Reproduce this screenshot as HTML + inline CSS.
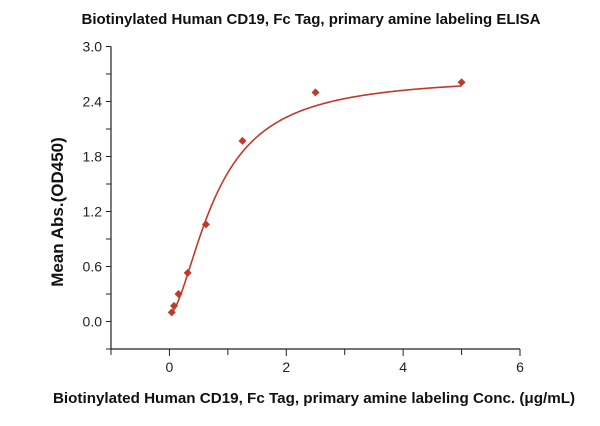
<!DOCTYPE html>
<html><head><meta charset="utf-8"><style>
body{margin:0;background:#fff;font-family:"Liberation Sans",sans-serif}
svg text{font-family:"Liberation Sans",sans-serif}
</style></head><body>
<svg id="chart" width="600" height="421" viewBox="0 0 600 421" xmlns="http://www.w3.org/2000/svg">
<text x="311" y="24" text-anchor="middle" font-size="15" font-weight="bold" fill="#111">Biotinylated Human CD19, Fc Tag, primary amine labeling ELISA</text>
<text x="314" y="403" text-anchor="middle" font-size="15.2" font-weight="bold" fill="#111">Biotinylated Human CD19, Fc Tag, primary amine labeling Conc. (μg/mL)</text>
<text transform="translate(63,212) rotate(-90)" text-anchor="middle" font-size="17" font-weight="bold" fill="#111">Mean Abs.(OD450)</text>
<g id="axes"></g>
<path id="curve" fill="none" stroke="#c0392b" stroke-width="1.6"/>
<g id="points"></g>
</svg>
<script>
const concs=[0.039,0.078,0.156,0.3125,0.625,1.25,2.5,5];
const absVals=[0.10,0.17,0.30,0.53,1.06,1.97,2.50,2.61];
const yTicks=[0.0,0.6,1.2,1.8,2.4,3.0];
const yTickLabels=["0.0","0.6","1.2","1.8","2.4","3.0"];
const xTicks=[0,2,4,6];
const xTickLabels=["0","2","4","6"];
const fitA=0.08,fitD=2.6,fitC=0.8,fitB=1.7;
const X0=111,X1=520,Y0=349,Y1=46.5;
const xmin=-1,xmax=6,ymin=-0.3,ymax=3.0;
const sx=v=>X0+(v-xmin)/(xmax-xmin)*(X1-X0);
const sy=v=>Y0-(v-ymin)/(ymax-ymin)*(Y0-Y1);
const NS="http://www.w3.org/2000/svg";
const ax=document.getElementById('axes');
function mk(tag,attrs,parent){const e=document.createElementNS(NS,tag);for(const k in attrs)e.setAttribute(k,attrs[k]);parent.appendChild(e);return e;}
let l=mk('line',{x1:X0,y1:Y1,x2:X0,y2:Y0,stroke:'#222','stroke-width':1.2},ax);


l=mk('line',{x1:X0,y1:Y0,x2:X1,y2:Y0,stroke:'#222','stroke-width':1.2},ax);


for(let v=-0.3;v<=3.001;v+=0.3){const y=sy(v);const t=mk('line',{x1:X0-5,y1:y,x2:X0,y2:y,stroke:'#222','stroke-width':1},ax);

}
yTicks.forEach((v,i)=>{const t=mk('text',{x:X0-9,y:sy(v)+5,'text-anchor':'end','font-size':14,fill:'#222'},ax);t.textContent=yTickLabels[i];

});
for(let v=-1;v<=6;v+=1){const x=sx(v);const t=mk('line',{x1:x,y1:Y0,x2:x,y2:Y0+(v%2===0?7:6),stroke:'#222','stroke-width':1},ax);

}
xTicks.forEach((v,i)=>{const t=mk('text',{x:sx(v),y:Y0+23,'text-anchor':'middle','font-size':14,fill:'#222'},ax);t.textContent=xTickLabels[i];

});
const f=x=>fitA+fitD/(1+Math.pow(fitC/x,fitB));
let d='';const lo=concs[0],hi=concs[concs.length-1];
for(let i=0;i<=300;i++){const x=lo+(hi-lo)*i/300;d+=(i?'L':'M')+sx(x).toFixed(2)+','+sy(f(x)).toFixed(2);}
document.getElementById('curve').setAttribute('d',d);
const pg=document.getElementById('points');
concs.forEach((c,i)=>{const x=sx(c),y=sy(absVals[i]),r=4;
const p=mk('polygon',{points:`${x},${y-r} ${x+r},${y} ${x},${y+r} ${x-r},${y}`,fill:'#c0392b'},pg);

});
</script>
</body></html>
